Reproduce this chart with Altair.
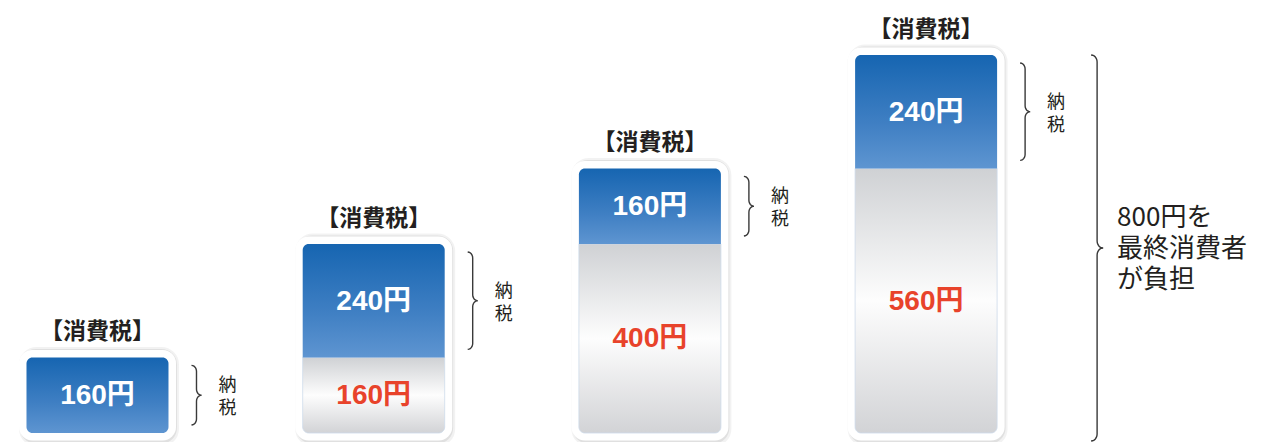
import math
import altair as alt
import pandas as pd

# ---- data ----
stages = [1, 2, 3, 4]
tax_paid = [160, 240, 160, 240]        # 納税額 (blue)
carried = [0, 160, 400, 560]           # 前段階までの消費税 (grey)
totals = [160, 400, 560, 800]          # 消費税合計
header_text = "【消費税】"
unit = "円"
side_label = "納\n税"
summary_text = "800円を\n最終消費者\nが負担"
consumer_total = 800

# ---- layout constants (pixels -> data units) ----
W, H = 1258, 434
PX_X = 276.2          # pixels per stage
PX_Y = 0.4725         # pixels per yen
XDOM = [0.676, 5.2306]
YDOM = [-19.05, 899.47]
half = 71 / PX_X

def X(field):
    return alt.X(field, type="quantitative", scale=alt.Scale(domain=XDOM, nice=False, zero=False), axis=None)

def Y(field):
    return alt.Y(field, type="quantitative", scale=alt.Scale(domain=YDOM, nice=False, zero=False), axis=None)

bars = pd.DataFrame({
    "stage": stages,
    "tax": tax_paid,
    "prev": carried,
    "total": totals,
})
bars["x0"] = bars["stage"] - half
bars["x1"] = bars["stage"] + half
bars["base"] = 0
bars["mid_tax"] = bars["prev"] + bars["tax"] / 2
bars["mid_prev"] = bars["prev"] / 2
bars["tax_label"] = bars["tax"].astype(str) + unit
bars["prev_label"] = bars["prev"].astype(str) + unit
bars["header"] = header_text
bars["side"] = side_label
bars["brace_x"] = bars["stage"] + 99 / PX_X
bars["side_x"] = bars["stage"] + 130 / PX_X

with_prev = bars[bars["prev"] > 0]
no_prev = bars[bars["prev"] == 0]

# ---- curly brace geometry ----
def brace(x0, ylo, yhi, bid, w_px=5, r_px=6, n=6):
    w = w_px / PX_X
    r = r_px / PX_Y
    ym = (ylo + yhi) / 2
    pts = []
    def arc(cx, cy, t0, t1):
        for k in range(n + 1):
            t = math.radians(t0 + (t1 - t0) * k / n)
            pts.append((cx + w * math.cos(t), cy + r * math.sin(t)))
    arc(x0 - w, yhi - r, 90, 0)
    arc(x0 + w, ym + r, 180, 270)
    arc(x0 + w, ym - r, 90, 180)
    arc(x0 - w, ylo + r, 0, -90)
    return [{"bid": bid, "seq": i, "bx": p[0], "by": p[1]} for i, p in enumerate(pts)]

inset = 8 / PX_Y
brace_rows = []
for _, r in bars.iterrows():
    brace_rows += brace(r["brace_x"], r["prev"] + inset, r["total"] - inset, f"b{r['stage']}")
brace_rows += brace(4 + 171 / PX_X, -8 / PX_Y, consumer_total, "big", w_px=6, r_px=7)
braces = pd.DataFrame(brace_rows)

summary = pd.DataFrame({"sx": [4 + 191 / PX_X], "sy": [consumer_total / 2], "txt": [summary_text]})

blue = alt.Gradient(gradient="linear", x1=0, y1=0, x2=0, y2=1,
                    stops=[alt.GradientStop(color="#1665b1", offset=0),
                           alt.GradientStop(color="#3f7fc3", offset=0.6),
                           alt.GradientStop(color="#5e95d1", offset=1)])
grey = alt.Gradient(gradient="linear", x1=0, y1=0, x2=0, y2=1,
                    stops=[alt.GradientStop(color="#cfd1d4", offset=0),
                           alt.GradientStop(color="#fdfdfd", offset=0.5),
                           alt.GradientStop(color="#d2d3d6", offset=1)])

base = alt.Chart(bars)
rect_enc = dict(x=X("x0"), x2="x1", y=Y("base"), y2="total")

shadow1 = base.mark_rect(fill="#000", fillOpacity=0.05, stroke="#000", strokeOpacity=0.05,
                         strokeWidth=21, cornerRadius=7, xOffset=3, yOffset=3).encode(**rect_enc)
shadow2 = base.mark_rect(fill="#000", fillOpacity=0.07, stroke="#000", strokeOpacity=0.07,
                         strokeWidth=17, cornerRadius=7, xOffset=2, yOffset=2).encode(**rect_enc)
frame = base.mark_rect(fill="white", stroke="white", strokeWidth=15, cornerRadius=6).encode(**rect_enc)

grey_seg = alt.Chart(with_prev).mark_rect(
    fill=grey, stroke="#cddbeb", strokeWidth=0.8,
    cornerRadiusBottomLeft=6, cornerRadiusBottomRight=6
).encode(x=X("x0"), x2="x1", y=Y("base"), y2="prev")

blue_top = alt.Chart(with_prev).mark_rect(
    fill=blue, cornerRadiusTopLeft=6, cornerRadiusTopRight=6
).encode(x=X("x0"), x2="x1", y=Y("prev"), y2="total")

blue_full = alt.Chart(no_prev).mark_rect(fill=blue, cornerRadius=6).encode(
    x=X("x0"), x2="x1", y=Y("prev"), y2="total")

header = base.mark_text(font="Noto Sans CJK JP", fontWeight="bold", fontSize=23, color="#231f20",
                        baseline="middle", dy=-25).encode(x=X("stage"), y=Y("total"), text="header:N")

num_font = "Liberation Sans, Noto Sans CJK JP, sans-serif"
tax_lbl = base.mark_text(font=num_font, fontWeight="bold", fontSize=28, color="white",
                         baseline="middle", dy=1).encode(x=X("stage"), y=Y("mid_tax"), text="tax_label:N")
prev_lbl = alt.Chart(with_prev).mark_text(font=num_font, fontWeight="bold", fontSize=28, color="#e8432b",
                                          baseline="middle", dy=1).encode(
    x=X("stage"), y=Y("mid_prev"), text="prev_label:N")

brace_lines = alt.Chart(braces).mark_line(stroke="#3a3a3a", strokeWidth=1.4).encode(
    x=X("bx"), y=Y("by"), detail="bid:N", order=alt.Order("seq:Q"))

side = base.mark_text(font="Noto Sans CJK JP", fontSize=18, color="#231f20", lineBreak="\n",
                      lineHeight=23, baseline="middle", dy=-9).encode(
    x=X("side_x"), y=Y("mid_tax"), text="side:N")

summary_txt = alt.Chart(summary).mark_text(font="Noto Sans CJK JP", fontSize=26, color="#231f20",
                                           lineBreak="\n", lineHeight=31, align="left",
                                           baseline="middle", dy=-26).encode(
    x=X("sx"), y=Y("sy"), text="txt:N")

chart = alt.layer(
    shadow1, shadow2, frame, grey_seg, blue_top, blue_full,
    header, tax_lbl, prev_lbl, brace_lines, side, summary_txt
).properties(
    width=W, height=H, padding=0, autosize=alt.AutoSizeParams(type="none"), background="white"
).configure_view(stroke=None)

chart.save("out.html", embed_options={"renderer": "svg", "actions": False})
